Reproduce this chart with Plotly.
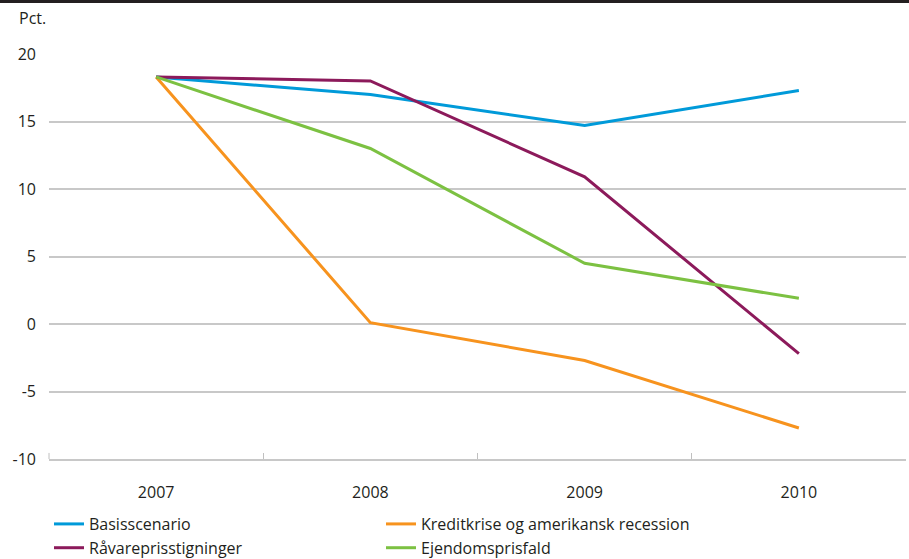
import plotly.graph_objects as go

years = ["2007", "2008", "2009", "2010"]
basis = [18.3, 17.0, 14.7, 17.3]
kredit = [18.3, 0.1, -2.7, -7.7]
raavare = [18.3, 18.0, 10.9, -2.2]
ejendom = [18.3, 13.0, 4.5, 1.9]
y_ticks = [-10, -5, 0, 5, 10, 15, 20]
y_tick_text = ["-10", "-5", "0", "5", "10", "15", "20"]

series = [
    ("Basisscenario", basis, "#009ad9"),
    ("Kreditkrise og amerikansk recession", kredit, "#f7931e"),
    ("Råvareprisstigninger", raavare, "#8c1a5b"),
    ("Ejendomsprisfald", ejendom, "#7cc142"),
]

fig = go.Figure()
for name, vals, col in series:
    fig.add_trace(go.Scatter(x=years, y=vals, name=name, mode="lines",
                             line=dict(color=col, width=3)))

font = "Open Sans, Noto Sans, sans-serif"
fig.update_layout(
    width=909, height=559,
    margin=dict(l=49, r=3, t=54, b=100),
    plot_bgcolor="white", paper_bgcolor="white",
    font=dict(family=font, size=16, color="#231f20"),
    showlegend=True,
    legend=dict(orientation="h", x=0.0, xanchor="left",
                yref="container", y=0.093, yanchor="top",
                entrywidth=287, entrywidthmode="pixels", tracegroupgap=0,
                font=dict(size=16), itemwidth=30),
    xaxis=dict(type="category", range=[-0.5, 3.5], showgrid=False,
               ticks="inside", ticklen=6, tickcolor="#c0c0c0",
               tickson="boundaries", showline=True, linecolor="#c8c8c8",
               linewidth=1.5, zeroline=False, ticklabelstandoff=18),
    yaxis=dict(range=[-10, 20], tickvals=y_ticks, ticktext=y_tick_text,
               showgrid=True, gridcolor="#c8c8c8", gridwidth=1.5, zeroline=False,
               showline=False, ticks="", ticklabelstandoff=12),
    shapes=[
        dict(type="rect", xref="paper", yref="paper", x0=-0.06, x1=1.01,
             y0=1.126, y1=1.14, fillcolor="#231f20", line=dict(width=0), layer="above"),
        dict(type="line", xref="paper", yref="paper", x0=0, x1=0, y0=0, y1=0.015,
             line=dict(color="#c0c0c0", width=1)),
    ],
    annotations=[
        dict(text="Pct.", xref="paper", yref="paper", x=-0.037, y=1.058,
             xanchor="left", yanchor="bottom", showarrow=False, font=dict(size=16)),
    ],
)

fig.write_html("out.html", config={"displayModeBar": False},
               post_script="document.body.style.margin='0';")
